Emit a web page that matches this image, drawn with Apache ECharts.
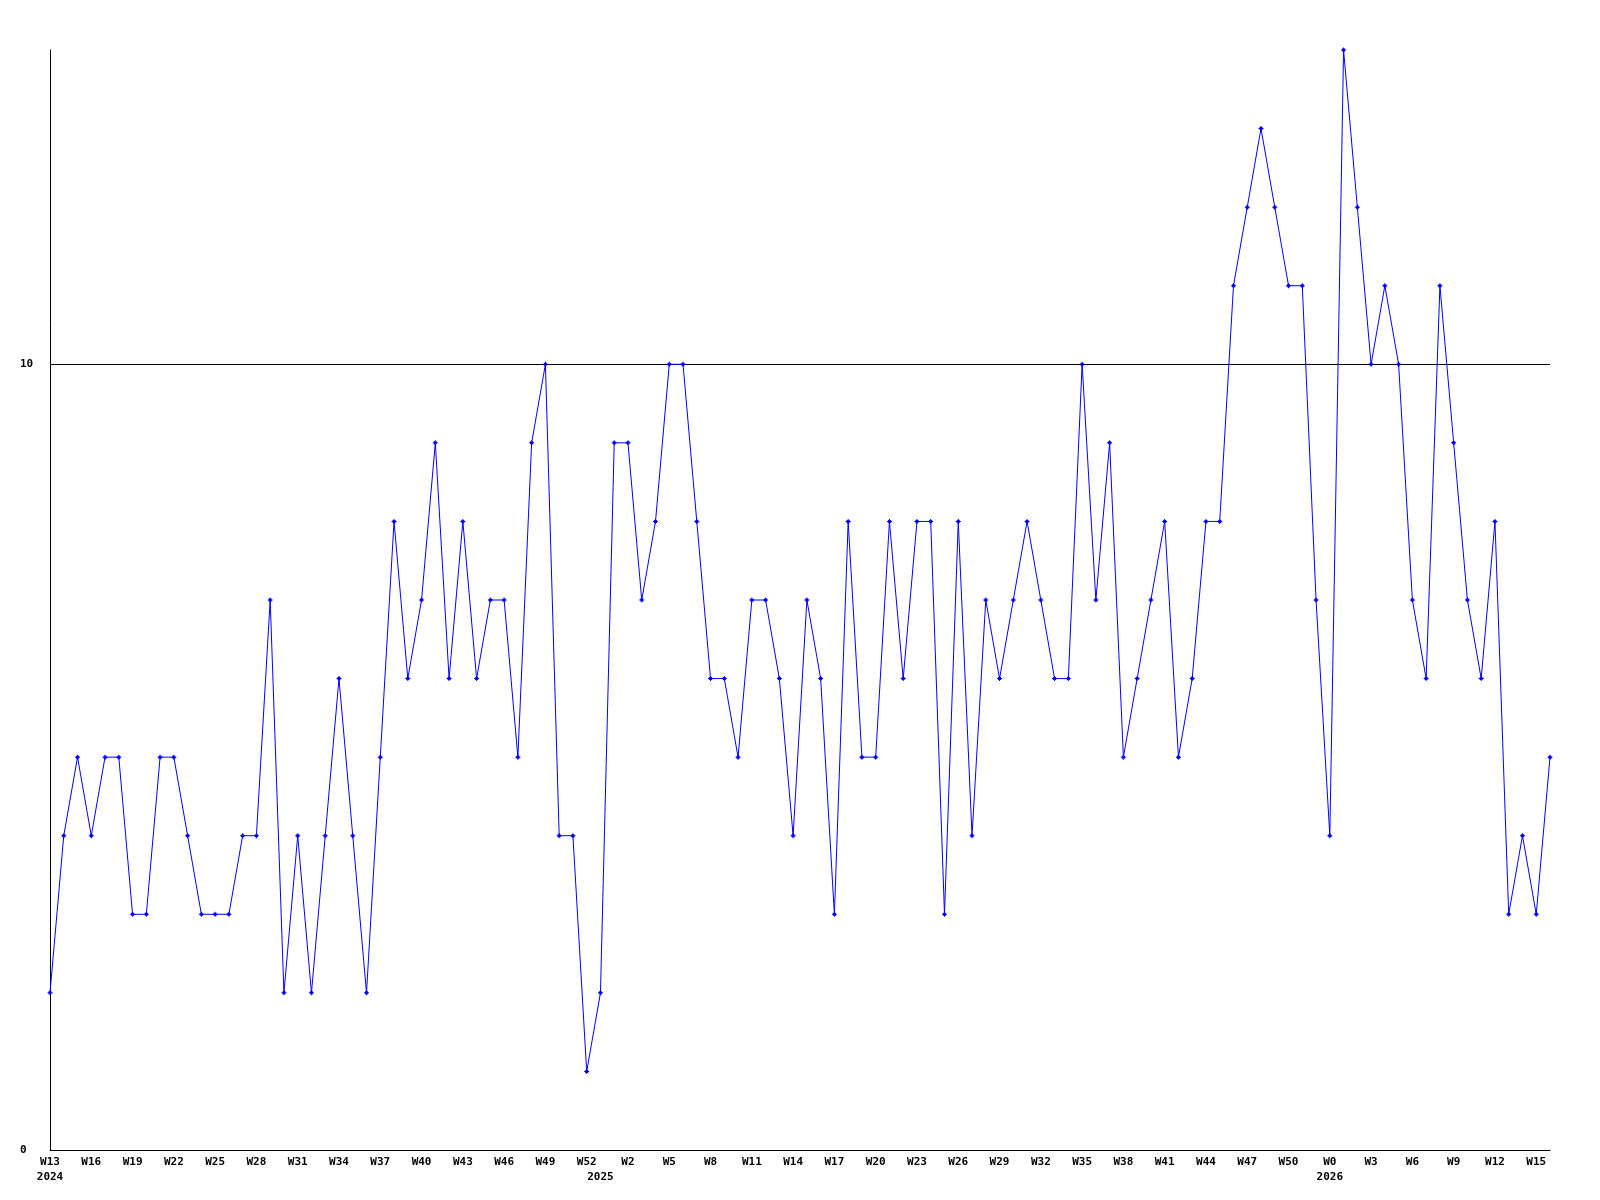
<!DOCTYPE html>
<html>
<head>
<meta charset="utf-8">
<script src="https://cdn.jsdelivr.net/npm/echarts@6/dist/echarts.min.js"></script>
<style>
  html, body { margin: 0; padding: 0; background: #fff; }
  #main { width: 1600px; height: 1200px; }
</style>
</head>
<body>
<div id="main"></div>
<script>
// weeks covered by the chart, per year (first and last week number)
const yearSpans = [
  { year: 2024, first: 13, last: 52 },
  { year: 2025, first: 0, last: 52 },
  { year: 2026, first: 0, last: 16 }
]

// weekly counts
const values2024 = [2, 4, 5, 4, 5, 5, 3, 3, 5, 5, 4, 3, 3, 3, 4, 4, 7, 2, 4, 2,
  4, 6, 4, 2, 5, 8, 6, 7, 9, 6, 8, 6, 7, 7, 5, 9, 10, 4, 4, 1]
const values2025 = [2, 9, 9, 7, 8, 10, 10, 8, 6, 6, 5, 7, 7, 6, 4, 7, 6, 3, 8, 5,
  5, 8, 6, 8, 8, 3, 8, 4, 7, 6, 7, 8, 7, 6, 6, 10, 7, 9, 5, 6,
  7, 8, 5, 6, 8, 8, 11, 12, 13, 12, 11, 11, 7]
const values2026 = [4, 14, 12, 10, 11, 10, 7, 6, 11, 9, 7, 6, 8, 3, 4, 3, 5]

// x tick labels that are printed
const tickLabels2024 = ['W13', 'W16', 'W19', 'W22', 'W25', 'W28', 'W31', 'W34', 'W37', 'W40', 'W43', 'W46', 'W49', 'W52']
const tickLabels2025 = ['W2', 'W5', 'W8', 'W11', 'W14', 'W17', 'W20', 'W23', 'W26', 'W29', 'W32', 'W35', 'W38', 'W41', 'W44', 'W47', 'W50']
const tickLabels2026 = ['W0', 'W3', 'W6', 'W9', 'W12', 'W15']
const yTickLabels = [0, 10]

const tickLabels = { 2024: tickLabels2024, 2025: tickLabels2025, 2026: tickLabels2026 }

// build the category list: "2024 W13", ...
const categories = []
yearSpans.forEach(s => {
  for (let w = s.first; w <= s.last; w++) {
    categories.push(s.year + ' W' + w)
  }
})
const values = values2024.concat(values2025, values2026)

function labelFor (cat) {
  const [year, wk] = cat.split(' ')
  const span = yearSpans.find(s => String(s.year) === year)
  const isFirst = wk === 'W' + span.first
  const showWeek = tickLabels[year].indexOf(wk) >= 0
  let txt = showWeek ? wk : ''
  if (isFirst) txt += '\n' + year
  return txt
}

const font = 'DejaVu Sans Mono'
const myChart = echarts.init(document.getElementById('main'))
const option = {
  animation: false,
  backgroundColor: '#ffffff',
  grid: { left: 50, right: 50, top: 50, bottom: 50, containLabel: false },
  xAxis: {
    type: 'category',
    data: categories,
    boundaryGap: false,
    axisLine: { show: true, lineStyle: { color: '#000', width: 1 } },
    axisTick: { show: false },
    splitLine: { show: false },
    axisLabel: {
      interval: (i, v) => labelFor(v) !== '',
      formatter: (v) => labelFor(v),
      fontFamily: font,
      fontWeight: 'bold',
      fontSize: 11,
      lineHeight: 15,
      color: '#000',
      margin: 5,
      hideOverlap: false
    }
  },
  yAxis: {
    type: 'value',
    min: 0,
    max: 14,
    interval: 10,
    axisLine: { show: true, lineStyle: { color: '#000', width: 1 } },
    axisTick: { show: false },
    // lines at 0 and 10 only, none at the top edge
    splitLine: { show: true, lineStyle: { color: ['#000', '#000', 'rgba(0,0,0,0)'], width: 1 } },
    axisLabel: {
      formatter: (v) => (yTickLabels.indexOf(v) >= 0 ? String(v) : ''),
      align: 'left',
      margin: 30,
      fontFamily: font,
      fontWeight: 'bold',
      fontSize: 11,
      color: '#000'
    }
  },
  series: [
    {
      type: 'line',
      data: values,
      symbol: 'path://M2,0H3V1H4V2H5V3H4V4H3V5H2V4H1V3H0V2H1V1H2Z',
      symbolSize: 5,
      showAllSymbol: true,
      lineStyle: { color: '#0000ff', width: 1 },
      itemStyle: { color: '#0000ff' }
    }
  ]
}
myChart.setOption(option)
</script>
</body>
</html>
